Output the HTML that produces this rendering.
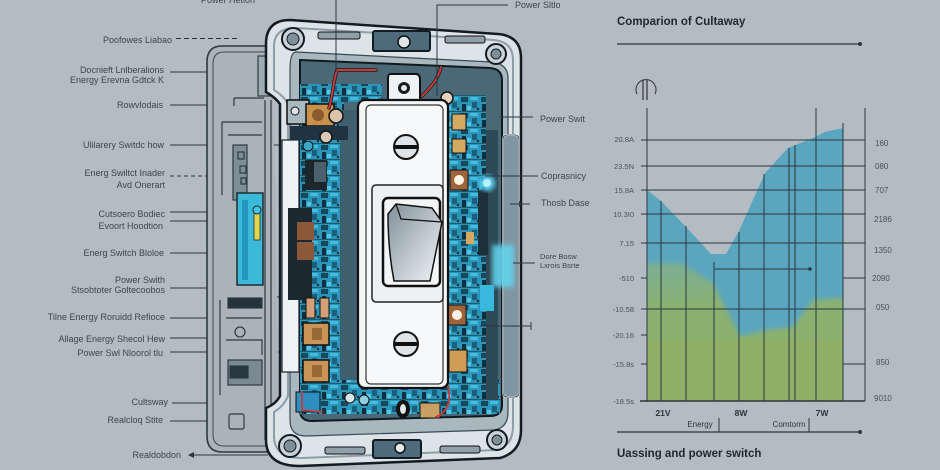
<!DOCTYPE html>
<html><head><meta charset="utf-8"><style>
html,body{margin:0;padding:0;background:#b3bcc2;}
svg{display:block;}
text{font-family:"Liberation Sans",sans-serif;}
</style></head><body>
<svg width="940" height="470" viewBox="0 0 940 470" xmlns="http://www.w3.org/2000/svg">
<defs>
<pattern id="pcb" width="20" height="16" patternUnits="userSpaceOnUse">
<rect width="20" height="16" fill="#2b95ba"/>
<rect x="1" y="1" width="7" height="5" fill="#17485c"/>
<rect x="10" y="1" width="8" height="3" fill="#45bcdc"/>
<rect x="12" y="6" width="5" height="6" fill="#1a5f7b"/>
<rect x="2" y="8" width="4" height="7" fill="#102f3c"/>
<rect x="7" y="10" width="4" height="4" fill="#52c6e2"/>
<rect x="0" y="15" width="20" height="1" fill="#1a5b74"/>
<circle cx="18" cy="13" r="1.2" fill="#0f2a36"/>
</pattern>
<linearGradient id="rock" x1="0" y1="0" x2="1" y2="1">
<stop offset="0" stop-color="#7f8f99"/><stop offset="0.6" stop-color="#c5ced3"/><stop offset="1" stop-color="#f1f4f5"/>
</linearGradient>
<linearGradient id="grn" x1="0" y1="0" x2="0" y2="1">
<stop offset="0" stop-color="#7aae95"/><stop offset="0.3" stop-color="#8ab170"/><stop offset="1" stop-color="#8fae66"/>
</linearGradient>
<filter id="bl"><feGaussianBlur stdDeviation="2.5"/></filter>
<filter id="gl"><feGaussianBlur stdDeviation="2.5"/></filter>
<clipPath id="area"><path d="M647 190L661 201L686 227L711 254L726 254L739 231L765 173L788 148L813 138L825 132L843 128V401H647Z"/></clipPath>
</defs>
<rect width="940" height="470" fill="#b3bcc2"/>

<!-- left labels -->
<g font-size="9" fill="#3a4650" text-anchor="end">
<text x="228" y="3" text-anchor="middle">Power Hetion</text>
<text x="172" y="43">Poofowes Liabao</text>
<text x="164" y="73">Docnieft Lnlberalions</text>
<text x="164" y="83">Energy Erevna Gdtck K</text>
<text x="163" y="108">Rowvlodais</text>
<text x="164" y="148">Ulilarery Switdc how</text>
<text x="165" y="176">Energ Swiltct Inader</text>
<text x="165" y="188">Avd Onerart</text>
<text x="165" y="217">Cutsoero Bodiec</text>
<text x="163" y="229">Evoort Hoodtion</text>
<text x="164" y="256">Energ Switch Bloloe</text>
<text x="165" y="283">Power Swith</text>
<text x="165" y="293">Stsobtoter Goltecoobos</text>
<text x="165" y="320">Tilne Energy Roruidd Refioce</text>
<text x="165" y="342">Allage Energy Shecol Hew</text>
<text x="163" y="356">Power Swl Nloorol tlu</text>
<text x="168" y="405">Cultsway</text>
<text x="163" y="423">Realcloq Stite</text>
<text x="181" y="458">Realdobdon</text>
</g>
<g stroke="#2a3640" stroke-width="1" fill="none">
<path d="M176 38.5H240" stroke-dasharray="5,3"/>
<path d="M170 72H278"/>
<path d="M170 105H262"/>
<path d="M170 145H296"/>
<path d="M170 176H207" stroke-dasharray="4,3"/>
<path d="M170 212H225M170 221H225"/>
<path d="M170 253H236"/>
<path d="M170 288H246M230 297H300"/>
<path d="M170 318H240"/>
<path d="M170 338H240"/>
<path d="M170 352H300M288 348V356"/>
<path d="M172 403H265"/>
<path d="M170 421H228"/>
<path d="M190 455H268"/>
</g>
<path d="M188 455L194 452V458Z" fill="#2a3640"/>

<!-- shell / backplate -->
<path d="M272 46H222Q207 46 207 62V436Q207 452 222 452H280" fill="#a9b3b9" stroke="#2c3a44" stroke-width="1.6"/>
<path d="M270 52H224Q213 52 213 64V434Q213 446 224 446H280" fill="none" stroke="#3a4853" stroke-width="1"/>
<rect x="258" y="56" width="16" height="40" fill="#9fabb2" stroke="#2c3a44" stroke-width="1.2"/>
<path d="M234 98H264M234 98V106" stroke="#2c3a44" stroke-width="1.2" fill="none"/>
<g fill="none" stroke="#2c3a44" stroke-width="1.2">
<path d="M222 122V195M222 122H262M228 135H262"/>
<rect x="233" y="145" width="14" height="55" fill="#7f8d96"/>
<rect x="238" y="152" width="6" height="7"/><rect x="240" y="166" width="6" height="7"/><rect x="241" y="178" width="5" height="6"/>
<path d="M265 100V440M271 100V440"/>
<path d="M220 300V395"/>
<rect x="228" y="298" width="34" height="10" fill="#24323b"/>
<rect x="228" y="360" width="34" height="25" fill="#7a8992"/>
<rect x="230" y="366" width="18" height="12" fill="#2a3841"/>
<rect x="229" y="414" width="15" height="15" rx="2"/>
<circle cx="240" cy="332" r="5"/>
<path d="M226 318H262M226 340H262V355"/>
</g>
<rect x="237" y="193" width="26" height="92" fill="#3cb8d8" stroke="#1e2c35" stroke-width="1.5"/>
<rect x="242" y="200" width="6" height="80" fill="#2596bb"/>
<rect x="254" y="212" width="6" height="28" fill="#e4d64a" stroke="#1e2c35" stroke-width="0.8"/>
<circle cx="257" cy="210" r="4" fill="#46c4e2" stroke="#1e2c35"/>

<!-- metal frame -->
<path d="M290 20L498 34Q521 36 521 58V430Q521 452 500 458L300 466Q266 466 266 440V408Q276 404 280 396V104Q276 98 266 92V44Q266 20 290 20Z" fill="#dde4e8" stroke="#111c23" stroke-width="2.5"/>
<path d="M296 28L494 40Q513 42 513 60V426Q513 446 496 450L302 458Q274 458 274 436V412Q284 406 288 396V104Q284 96 274 90V46Q274 28 296 28Z" fill="none" stroke="#8d9ea8" stroke-width="2"/>
<path d="M296 52L492 62Q508 64 508 78V412Q508 428 494 430L306 436Q290 436 290 420V70Q290 52 296 52Z" fill="#a9b7bf" stroke="#3a4a54" stroke-width="1.2"/>
<!-- flange holes -->
<g stroke="#111c23" stroke-width="2">
<circle cx="293" cy="39" r="11" fill="#c9d2d7"/><circle cx="293" cy="39" r="6" fill="#7f8f98" stroke-width="1"/>
<circle cx="496" cy="54" r="10" fill="#c9d2d7"/><circle cx="496" cy="54" r="5" fill="#7f8f98" stroke-width="1"/>
<circle cx="290" cy="446" r="11" fill="#c9d2d7"/><circle cx="290" cy="446" r="6" fill="#7f8f98" stroke-width="1"/>
<circle cx="497" cy="440" r="10" fill="#c9d2d7"/><circle cx="497" cy="440" r="5" fill="#7f8f98" stroke-width="1"/>
<rect x="373" y="31" width="57" height="20" rx="2" fill="#4d6b7a"/>
<rect x="373" y="440" width="48" height="18" rx="2" fill="#4d6b7a"/>
</g>
<circle cx="404" cy="42" r="6" fill="#dfe5e8" stroke="#111" stroke-width="1.5"/>
<circle cx="400" cy="448" r="5" fill="#dfe5e8" stroke="#111" stroke-width="1.5"/>
<rect x="318" y="32" width="42" height="7" rx="2" fill="#8fa0a9" stroke="#111" stroke-width="1"/>
<rect x="445" y="36" width="40" height="7" rx="2" fill="#8fa0a9" stroke="#111" stroke-width="1"/>
<rect x="325" y="447" width="40" height="7" rx="2" fill="#8fa0a9" stroke="#111" stroke-width="1"/>
<rect x="440" y="446" width="40" height="7" rx="2" fill="#8fa0a9" stroke="#111" stroke-width="1"/>

<!-- cavity -->
<path d="M300 60L490 68Q502 69 502 80V405Q502 416 490 416L312 421Q300 421 300 410Z" fill="#4b6877" stroke="#0f1a20" stroke-width="2"/>
<rect x="282" y="140" width="17" height="232" fill="#eef2f4" stroke="#1a252c" stroke-width="1.2"/>
<!-- pcb regions -->
<rect x="300" y="84" width="44" height="326" fill="url(#pcb)"/>
<rect x="300" y="84" width="82" height="18" fill="url(#pcb)"/>
<rect x="446" y="95" width="40" height="310" fill="url(#pcb)"/>
<rect x="300" y="380" width="200" height="34" fill="url(#pcb)"/>
<rect x="340" y="110" width="20" height="270" fill="#3f5f6f"/>
<rect x="486" y="130" width="12" height="270" fill="#2e4a57"/>
<rect x="478" y="190" width="10" height="65" fill="#1d2f38"/>
<!-- right side strip -->
<rect x="503" y="135" width="16" height="262" rx="4" fill="#7f97a3" stroke="#f2f5f6" stroke-width="2"/>
<rect x="503" y="135" width="16" height="262" rx="4" fill="none" stroke="#1a262e" stroke-width="0.8"/>
<rect x="492" y="245" width="22" height="42" fill="#62d6f0" opacity="0.85" filter="url(#gl)"/>
<rect x="480" y="285" width="14" height="26" fill="#38b8dc"/>
<circle cx="487" cy="183" r="8" fill="#58d3f2" filter="url(#gl)"/>
<circle cx="487" cy="183" r="4" fill="#b8f0ff"/>

<!-- left components -->
<rect x="287" y="100" width="22" height="24" fill="#aab8c0" stroke="#111" stroke-width="1.5"/>
<circle cx="295" cy="111" r="4" fill="#dde3e6" stroke="#111"/>
<rect x="306" y="104" width="28" height="22" fill="#c8924e" stroke="#111" stroke-width="1.5"/>
<circle cx="318" cy="115" r="6" fill="#8a5a2c"/>
<circle cx="336" cy="116" r="7" fill="#d9c3aa" stroke="#111" stroke-width="1.5"/>
<rect x="290" y="126" width="58" height="14" fill="#1f3340"/>
<circle cx="326" cy="137" r="6" fill="#d6c7b6" stroke="#111" stroke-width="1.5"/>
<circle cx="308" cy="146" r="5" fill="#3aa6c8" stroke="#111"/>
<rect x="305" y="160" width="22" height="30" fill="#1b262d"/>
<rect x="314" y="162" width="12" height="20" fill="#4c5f6b"/>
<rect x="288" y="208" width="24" height="92" fill="#1b2830"/>
<rect x="297" y="222" width="17" height="18" fill="#8c5a3a"/>
<rect x="297" y="242" width="17" height="18" fill="#8c5a3a"/>
<rect x="306" y="298" width="9" height="20" fill="#d3a077" stroke="#111"/>
<rect x="320" y="298" width="9" height="20" fill="#d3a077" stroke="#111"/>
<rect x="303" y="323" width="26" height="22" fill="#c99455" stroke="#111" stroke-width="1.5"/>
<rect x="312" y="328" width="10" height="12" fill="#9a6a36"/>
<rect x="303" y="360" width="26" height="22" fill="#c99455" stroke="#111" stroke-width="1.5"/>
<rect x="312" y="365" width="10" height="12" fill="#9a6a36"/>
<rect x="296" y="392" width="24" height="20" fill="#2c8fbf" stroke="#111"/>
<circle cx="350" cy="398" r="5" fill="#d7e6ea" stroke="#111"/>
<circle cx="364" cy="400" r="5" fill="#8fd0e0" stroke="#111"/>
<!-- right components -->
<circle cx="447" cy="98" r="6" fill="#e3d2bd" stroke="#111" stroke-width="1.5"/>
<rect x="452" y="114" width="14" height="16" fill="#d4aa62" stroke="#111"/>
<rect x="452" y="139" width="14" height="14" fill="#d4aa62" stroke="#111"/>
<rect x="450" y="170" width="18" height="20" fill="#a0643a" stroke="#111"/>
<circle cx="459" cy="180" r="5" fill="#fbf3e6"/>
<rect x="466" y="232" width="8" height="12" fill="#d4aa62"/>
<rect x="448" y="305" width="18" height="20" fill="#a0643a" stroke="#111"/>
<circle cx="457" cy="315" r="5" fill="#fbf3e6"/>
<rect x="449" y="350" width="18" height="22" fill="#cf9c56" stroke="#111"/>
<rect x="420" y="403" width="20" height="15" fill="#c9a063" stroke="#111"/>
<!-- red wires -->
<g fill="none" stroke-linecap="round">
<path d="M337 70H376M337 70C333 82 333 95 329 108" stroke="#1a1a1a" stroke-width="3.5"/>
<path d="M337 70H376M337 70C333 82 333 95 329 108" stroke="#c83a3a" stroke-width="2"/>
<path d="M441 67C438 80 430 88 422 96" stroke="#1a1a1a" stroke-width="3.5"/>
<path d="M441 67C438 80 430 88 422 96" stroke="#c83a3a" stroke-width="2"/>
<path d="M302 392V410L322 412M446 380Q456 408 436 417" stroke="#c83a3a" stroke-width="1.8"/>
</g>

<!-- switch plate -->
<path d="M390 74H416Q420 74 420 80V102H388V80Q388 74 390 74Z" fill="#eef2f4" stroke="#111" stroke-width="2"/>
<circle cx="404" cy="88" r="6" fill="#1a1a1a"/><circle cx="404" cy="88" r="3" fill="#e3e8ea"/>
<rect x="358" y="100" width="90" height="288" rx="7" fill="#f4f6f7" stroke="#111" stroke-width="2.2"/>
<rect x="366" y="105" width="77" height="279" rx="5" fill="#f7f8f9" stroke="#333" stroke-width="1.2"/>
<circle cx="406" cy="147" r="12" fill="#dde3e6" stroke="#111" stroke-width="2"/>
<rect x="395" y="145" width="22" height="4" fill="#111"/>
<circle cx="406" cy="344" r="12" fill="#dde3e6" stroke="#111" stroke-width="2"/>
<rect x="395" y="342" width="22" height="4" fill="#111"/>
<rect x="372" y="185" width="71" height="117" rx="4" fill="#eef1f3" stroke="#222" stroke-width="1.5"/>
<rect x="383" y="198" width="57" height="88" rx="5" fill="#f3f5f6" stroke="#111" stroke-width="2.5"/>
<path d="M388 214L396 204L432 208L442 222L430 281H394Q388 250 388 214Z" fill="url(#rock)" stroke="#111" stroke-width="1.5"/>
<path d="M396 204L401 219L442 222" fill="none" stroke="#111" stroke-width="1.2"/>
<ellipse cx="403" cy="409" rx="7" ry="9" fill="#111"/>
<ellipse cx="403" cy="409" rx="3" ry="5" fill="#e3e8ea"/>

<!-- top/right leader lines -->
<g stroke="#2a3640" stroke-width="1" fill="none">
<path d="M336 0V72"/>
<path d="M437 96V5H508"/>
<path d="M500 117H533"/>
<path d="M485 176H538"/>
<path d="M510 204H530M520 201V207"/>
<path d="M513 263H535"/>
<path d="M480 326H531M531 322V330"/>
</g>
<g font-size="9" fill="#3a4650">
<text x="515" y="8">Power Sltlo</text>
<text x="540" y="122">Power Swit</text>
<text x="541" y="179">Coprasnicy</text>
<text x="541" y="206">Thosb Dase</text>
<text x="540" y="259" font-size="7.5">Dore Bosw</text>
<text x="540" y="268" font-size="7.5">Lxrois Bsrte</text>
</g>

<!-- chart -->
<text x="617" y="25" font-size="11.5" font-weight="bold" fill="#1c2730">Comparion of Cultaway</text>
<path d="M617 44H860" stroke="#2a3640" stroke-width="1.2"/>
<circle cx="860" cy="44" r="2" fill="#2a3640"/>
<path d="M637 94A10 10 0 1 1 655 94" fill="none" stroke="#333" stroke-width="1"/>
<path d="M643 80V100M647 80V100" stroke="#333" stroke-width="1.2"/>

<g clip-path="url(#area)">
<rect x="647" y="120" width="196" height="282" fill="#5ba6bf"/>
<path d="M640 263L682 263L713 283L740 336L767 330L793 327L813 300L850 297V410H640Z" fill="url(#grn)" filter="url(#bl)"/>
<rect x="647" y="340" width="196" height="62" fill="#8fae66"/>
</g>
<g stroke="#2a3640" stroke-width="1" fill="none">
<path d="M647 108V401M865 108V401M816 108V401M843 123V401"/>
<path d="M661 201V401M686 226V401M714 262V401M739 232V401M764 174V401M789 148V401M795 145V401"/>
<path d="M641 140H865M641 166H865M641 190H865M641 214H865M641 243H865M641 309H865"/>
<path d="M641 278H647M843 278H865M641 335H647M641 364H647M843 364H865"/>
<path d="M714 269H810"/>
<path d="M640 401H865" stroke-width="1.5"/>
</g>
<circle cx="810" cy="269" r="1.8" fill="#2a3640"/>
<g font-size="7.5" fill="#47525b" text-anchor="end">
<text x="634" y="142">20.8A</text>
<text x="634" y="169">23.5N</text>
<text x="634" y="193">15.8A</text>
<text x="634" y="217">10.3I0</text>
<text x="634" y="246">7.15</text>
<text x="634" y="281">-510</text>
<text x="634" y="312">-10.58</text>
<text x="634" y="338">-20.16</text>
<text x="634" y="367">-15.8s</text>
<text x="634" y="404">-18.5s</text>
</g>
<g font-size="8" fill="#47525b">
<text x="875" y="146">160</text>
<text x="875" y="169">080</text>
<text x="875" y="193">707</text>
<text x="874" y="222">2186</text>
<text x="874" y="253">1350</text>
<text x="872" y="281">2090</text>
<text x="876" y="310">050</text>
<text x="876" y="365">850</text>
<text x="874" y="401">9010</text>
</g>
<g font-size="8.5" font-weight="bold" fill="#2a3640" text-anchor="middle">
<text x="663" y="416">21V</text>
<text x="741" y="416">8W</text>
<text x="822" y="416">7W</text>
</g>
<g font-size="8" fill="#2a3640" text-anchor="middle">
<text x="700" y="427">Energy</text>
<text x="789" y="427">Comtorm</text>
</g>
<path d="M719 418V432M809 418V432" stroke="#2a3640" stroke-width="1"/>
<path d="M617 432H860" stroke="#2a3640" stroke-width="1.2"/>
<circle cx="860" cy="432" r="2" fill="#2a3640"/>
<text x="617" y="457" font-size="11.5" font-weight="bold" fill="#1c2730">Uassing and power switch</text>
</svg>
</body></html>
